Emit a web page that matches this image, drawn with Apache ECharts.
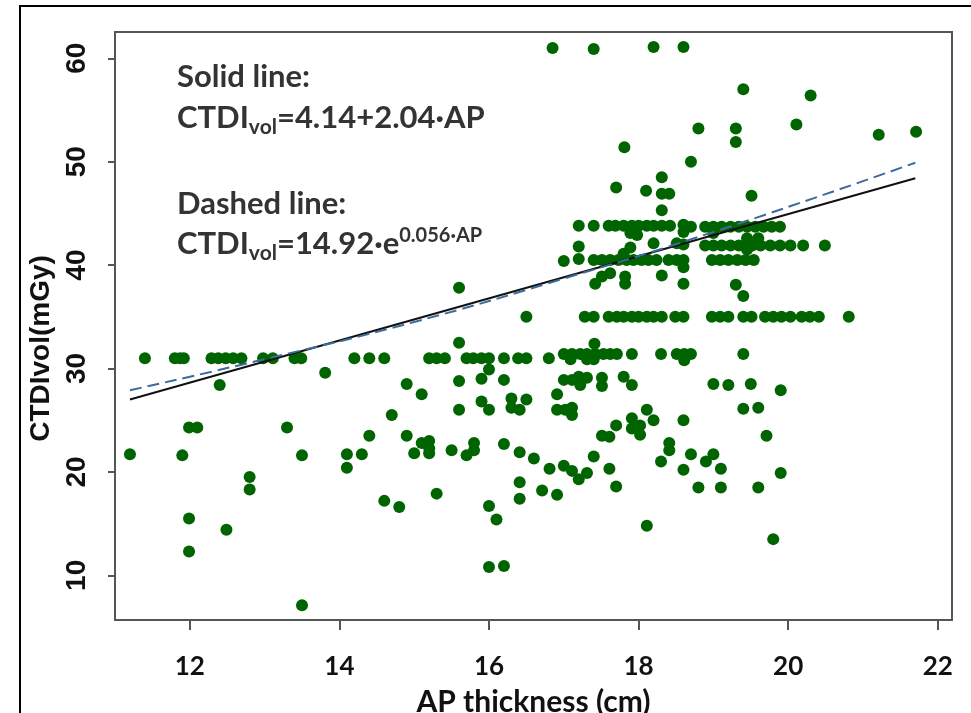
<!DOCTYPE html>
<html>
<head>
<meta charset="utf-8">
<script src="https://cdn.jsdelivr.net/npm/echarts@6/dist/echarts.min.js"></script>
<style>
html,body{margin:0;padding:0;background:#fff;}
#chart{width:971px;height:713px;}
</style>
</head>
<body>
<div id="chart"></div>
<script>
var apThickness = [
11.20,11.40,11.80,11.87,11.92,11.90,11.99,12.10,11.99,11.99,12.29,12.38,12.48,12.58,12.69,12.40,12.49,12.80,12.80,12.98,
13.11,13.30,13.40,13.49,13.50,13.50,13.81,14.10,14.10,14.20,14.30,14.40,14.40,14.60,14.60,14.70,14.80,14.90,14.90,15.00,
15.10,15.10,15.20,15.20,15.20,15.20,15.30,15.41,15.30,15.50,15.60,15.60,15.60,15.60,15.70,15.79,15.90,16.00,15.70,15.80,
15.80,15.90,15.90,16.00,16.00,16.00,16.00,16.10,
16.20,16.39,16.50,16.80,16.50,16.20,16.30,16.50,16.30,16.41,16.91,16.91,17.02,17.11,17.11,17.00,17.11,17.20,17.22,17.31,
17.51,17.51,17.80,17.91,18.11,18.20,18.60,17.91,17.91,18.02,18.02,17.70,17.51,17.61,16.20,16.41,16.60,16.81,17.00,17.11,
17.20,17.31,17.40,17.61,17.70,16.41,16.41,16.71,16.91,16.20,18.11,18.41,18.41,18.30,18.60,18.70,18.90,19.00,19.10,18.80,
19.10,19.60,19.90,19.71,19.00,19.20,19.50,19.90,19.40,19.60,19.80,
17.00,17.11,17.22,17.31,17.42,17.53,17.62,17.71,17.09,17.31,17.40,17.41,17.91,18.30,18.51,18.61,18.70,18.61,19.40,
17.28,17.40,17.60,17.71,17.80,17.91,18.00,18.11,18.20,18.31,18.49,18.60,18.98,19.09,19.20,19.40,19.51,19.69,19.80,19.91,
20.03,20.18,20.29,20.41,20.81,
17.42,17.51,17.62,17.82,17.82,18.31,18.60,18.60,19.30,19.40,
17.00,17.20,17.40,17.51,17.62,17.73,17.84,17.93,18.04,18.13,18.24,18.40,18.51,18.60,18.98,19.09,19.20,19.32,19.43,19.54,
17.20,17.89,17.80,18.20,18.51,18.60,18.89,19.00,19.11,19.23,19.34,19.45,19.52,19.63,19.45,19.45,19.60,19.76,19.89,20.03,
20.20,20.49,
17.20,17.40,17.60,17.69,17.80,17.91,18.00,18.11,18.20,18.31,18.42,17.89,17.98,18.60,18.60,18.70,18.89,19.00,19.11,19.23,
19.34,19.45,19.56,19.67,19.78,19.89,19.00,
16.85,17.40,18.20,18.60,19.40,20.30,18.80,19.30,19.30,20.11,21.21,21.71,17.81,18.70,18.31,17.70,18.10,18.31,18.41,19.51,
18.31
];
var ctdiVol = [
21.7,31.0,31.0,31.0,31.0,21.6,24.3,24.3,15.5,12.3,31.0,31.0,31.0,31.0,31.0,28.4,14.4,19.5,18.3,31.0,
31.0,24.3,31.0,31.0,21.6,7.1,29.6,21.7,20.4,31.0,21.7,31.0,23.5,31.0,17.2,25.5,16.6,28.5,23.5,21.8,
27.5,22.8,23.0,22.3,21.8,31.0,31.0,31.0,17.9,22.1,37.8,32.5,28.8,26.0,31.0,31.0,31.0,31.0,21.6,22.8,
22.1,29.0,26.8,29.9,26.0,16.7,10.8,15.4,
31.0,31.0,31.0,31.0,35.0,28.9,27.1,27.0,26.2,26.0,27.5,26.0,26.0,26.2,25.5,28.9,28.9,29.2,28.4,29.1,
29.1,28.3,29.2,28.4,26.0,25.0,25.0,25.2,24.2,24.5,23.6,24.5,23.5,23.4,22.7,21.9,21.3,20.3,20.6,20.1,
19.3,19.9,21.5,20.3,18.6,19.0,17.4,18.2,17.8,10.9,14.8,22.8,22.1,21.0,20.2,21.7,21.0,21.7,20.3,18.5,
18.5,18.5,19.9,23.5,28.5,28.4,28.5,27.9,26.1,26.2,13.5,
31.4,31.4,31.4,31.4,31.4,31.4,31.4,31.4,30.9,30.9,30.9,32.4,31.4,31.4,31.4,31.4,31.4,30.8,31.4,
35.0,35.0,35.0,35.0,35.0,35.0,35.0,35.0,35.0,35.0,35.0,35.0,35.0,35.0,35.0,35.0,35.0,35.0,35.0,35.0,
35.0,35.0,35.0,35.0,35.0,
38.2,38.9,39.2,38.9,38.2,39.0,38.2,39.8,38.1,37.0,
40.4,40.6,40.5,40.5,40.5,40.5,40.5,40.5,40.5,40.5,40.5,40.5,40.5,40.5,40.5,40.5,40.5,40.5,40.5,40.5,
41.8,41.7,41.1,42.1,42.1,42.0,41.9,41.9,41.9,41.9,41.9,41.9,41.9,41.9,42.6,41.5,42.6,41.9,41.9,41.9,
41.9,41.9,
43.8,43.8,43.8,43.8,43.8,43.8,43.8,43.8,43.8,43.8,43.8,43.1,42.9,43.9,43.2,43.7,43.7,43.7,43.7,43.7,
43.7,43.7,43.7,43.7,43.7,43.7,43.1,
61.0,60.9,61.1,61.1,57.0,56.4,53.2,53.2,51.9,53.6,52.6,52.9,51.4,50.0,48.5,47.5,47.2,46.9,46.9,46.7,
45.3
];
var linearFitX = [11.2, 21.7];
var linearFitY = [27.0, 48.4];
var expFitX = [11.2, 13.0, 15.0, 17.0, 19.0, 21.7];
var expFitY = [27.9, 30.9, 34.5, 38.7, 43.2, 49.9];
var xTicks = [12, 14, 16, 18, 20, 22];
var yTicks = [10, 20, 30, 40, 50, 60];

function pairs(xs, ys){ var out=[]; for(var i=0;i<xs.length;i++){ out.push([xs[i], ys[i]]); } return out; }

var chart = echarts.init(document.getElementById('chart'), null, {renderer:'canvas'});
var axisColor = '#555';
var option = {
  animation: false,
  backgroundColor: '#fff',
  grid: {left:115, top:32, right:19, bottom:93, show:true, borderColor:axisColor, borderWidth:2, backgroundColor:'transparent', containLabel:false, outerBoundsMode:'none'},
  xAxis: {
    type:'value', min:11.0, max:22.19,
    name:'AP thickness (cm)', nameLocation:'middle', nameGap:67,
    nameTextStyle:{fontFamily:'Lato', fontWeight:'bold', fontSize:30, color:'#111'},
    axisLine:{show:true, onZero:false, lineStyle:{color:axisColor, width:2}},
    axisTick:{show:true, length:10, customValues:xTicks, lineStyle:{color:axisColor, width:2}},
    axisLabel:{customValues:xTicks, margin:34, fontFamily:'Lato', fontWeight:'bold', fontSize:26, color:'#111'},
    splitLine:{show:false}
  },
  yAxis: {
    type:'value', min:5.68, max:62.54,
    name:'CTDIvol(mGy)', nameLocation:'middle', nameGap:59, nameRotate:90,
    nameTextStyle:{fontFamily:'Liberation Sans', fontWeight:'bold', fontSize:28, lineHeight:28, color:'#111', padding:[0,45,0,0]},
    axisLine:{show:true, onZero:false, lineStyle:{color:axisColor, width:2}},
    axisTick:{show:true, length:7, customValues:yTicks, lineStyle:{color:axisColor, width:2}},
    axisLabel:{customValues:yTicks, rotate:90, margin:24, fontFamily:'Liberation Sans', fontWeight:'bold', fontSize:28, lineHeight:28, color:'#111'},
    splitLine:{show:false}
  },
  series: [
    {type:'scatter', data:pairs(apThickness, ctdiVol), symbol:'circle', symbolSize:12, itemStyle:{color:'#006400', opacity:1}, z:2},
    {type:'line', data:pairs(linearFitX, linearFitY), symbol:'none', lineStyle:{color:'#111', width:2}, z:3},
    {type:'line', data:pairs(expFitX, expFitY), symbol:'none', smooth:true, lineStyle:{color:'#3d6b99', width:2, type:[12,6]}, z:3}
  ],
  graphic: [
    {type:'rect', shape:{x:20, y:6, width:1000, height:800}, style:{fill:'none', stroke:'#000', lineWidth:2}, silent:true, z:-1},
    {type:'text', x:177, y:56.5, style:{text:'{m|Solid line:}', rich:{m:{fontFamily:'Lato', fontWeight:'bold', fontSize:31, lineHeight:40, fill:'#333'}}}},
    {type:'text', x:177, y:97.5, style:{text:'{m|CTDI}{s|vol}{m|=4.14+2.04·AP}', rich:{
      m:{fontFamily:'Lato', fontWeight:'bold', fontSize:31, lineHeight:40, fill:'#333'},
      s:{fontFamily:'Lato', fontWeight:'bold', fontSize:21, lineHeight:21, verticalAlign:'bottom', fill:'#333'}}}},
    {type:'text', x:177, y:183.5, style:{text:'{m|Dashed line:}', rich:{m:{fontFamily:'Lato', fontWeight:'bold', fontSize:31, lineHeight:40, fill:'#333'}}}},
    {type:'text', x:177, y:223.5, style:{text:'{m|CTDI}{s|vol}{m|=14.92·e}{p|0.056·AP}', rich:{
      m:{fontFamily:'Lato', fontWeight:'bold', fontSize:31, lineHeight:40, fill:'#333'},
      s:{fontFamily:'Lato', fontWeight:'bold', fontSize:21, lineHeight:21, verticalAlign:'bottom', fill:'#333'},
      p:{fontFamily:'Lato', fontWeight:'bold', fontSize:20, lineHeight:20, verticalAlign:'top', padding:[2,0,0,0], fill:'#333'}}}}
  ]
};
chart.setOption(option);
</script>
</body>
</html>
